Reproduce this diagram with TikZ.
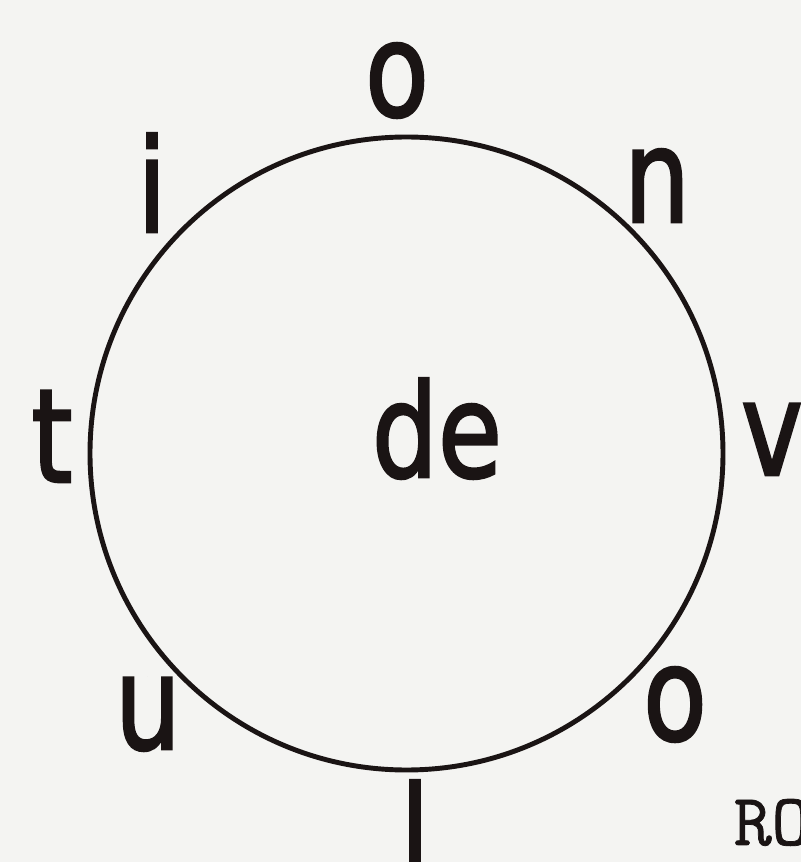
\documentclass[tikz,border=0pt]{standalone}
\usepackage{fontspec}
\setmainfont{DejaVu Sans}
\newfontfamily\letterfont[FakeBold=2.2]{DejaVu Sans}
\newfontfamily\captionfont[FakeBold=1]{Latin Modern Mono}
\usetikzlibrary{positioning}
\definecolor{paper}{HTML}{F4F4F2}
\definecolor{ink}{HTML}{1A1414}

\begin{document}
\begin{tikzpicture}[
  letter/.style={font=\letterfont\fontsize{37}{40}\selectfont, text=ink,
    anchor=base, inner sep=0pt, xscale=0.8, transform shape},
  ring/.style={circle, draw=ink, line width=1.4pt, inner sep=0pt,
    minimum size=6.33cm}
]
  % page, 801 x 862 px at 0.01 cm per px
  \fill[paper] (0,0) rectangle (8.01,8.62);
  \useasboundingbox (0,0) rectangle (8.01,8.62);

  \node[ring] (wheel) at (4.065,4.085) {};
  \node[letter] (centre) at (4.37,3.85) {de};

  % letters round the wheel
  \node[letter] (otop) at (3.97,7.46) {o};
  \node[letter] (n)    at (6.57,6.40) {n};
  \node[letter] (v)    at (7.72,3.87) {v};
  \node[letter] (obot) at (6.75,1.22) {o};
  \node[letter] (l)    at (4.15,-0.17) {l};
  \node[letter] (u)    at (1.48,1.13) {u};
  \node[letter] (t)    at (0.52,3.80) {t};
  \node[letter] (i)    at (1.52,6.30) {i};

  % cut-off caption, lower right
  \node[font=\captionfont\fontsize{21}{24}\selectfont, text=ink,
    anchor=base west, inner sep=0pt] (caption) at (7.33,0.17) {RO};
\end{tikzpicture}
\end{document}
